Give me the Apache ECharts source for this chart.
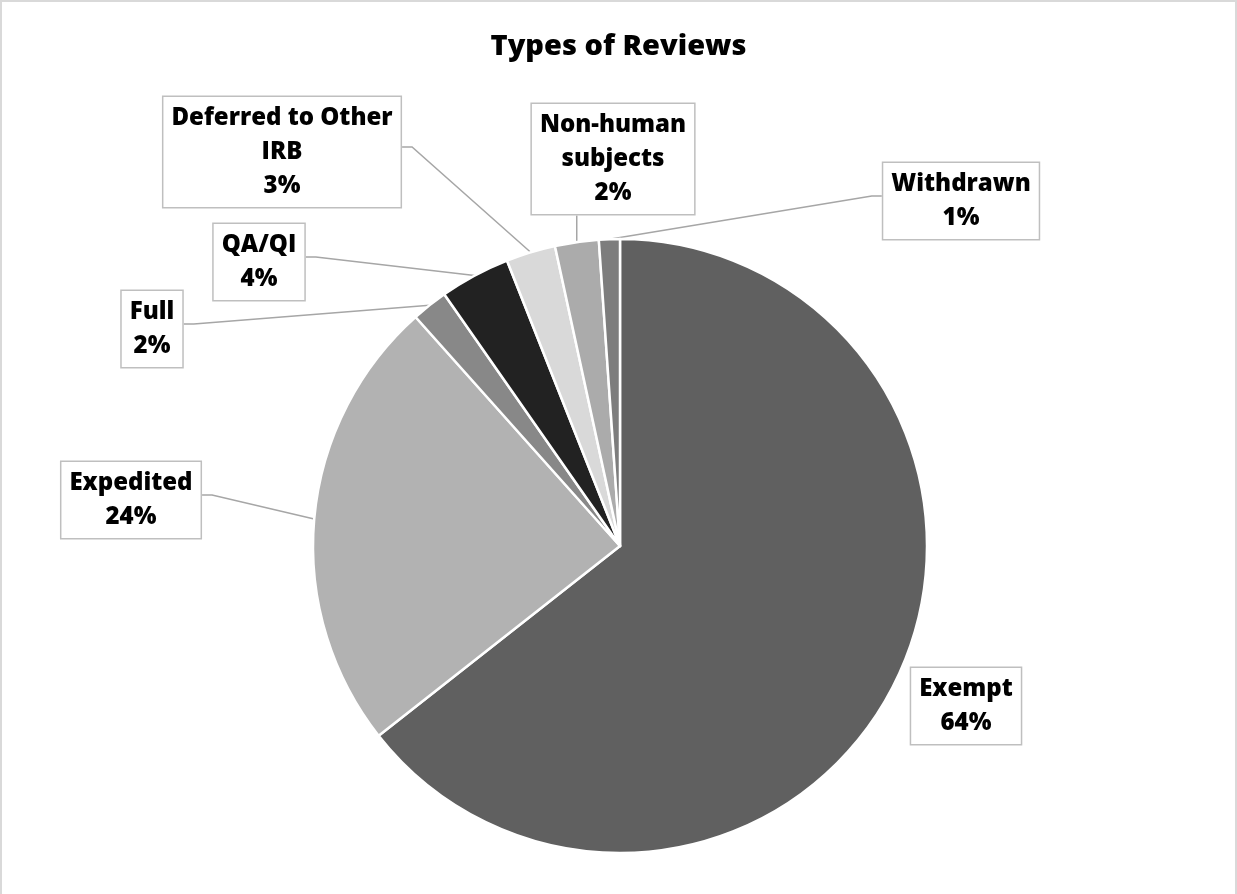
<!DOCTYPE html>
<html>
<head>
<meta charset="utf-8">
<script src="https://cdn.jsdelivr.net/npm/echarts@6/dist/echarts.min.js"></script>
<style>
  html, body { margin: 0; padding: 0; background: #fff; }
  #wrap { position: relative; width: 1237px; height: 894px; overflow: hidden; }
  #chart { position: absolute; left: 0; top: 0; width: 1237px; height: 894px; }
  #frame { position: absolute; left: 0; top: 0; width: 1237px; height: 900px; box-sizing: border-box;
           border: 2px solid #d9d9d9; pointer-events: none; }
</style>
</head>
<body>
<div id="wrap"><div id="chart"></div><div id="frame"></div></div>
<script>
// ---- data ----
const title = 'Types of Reviews';
const categories = ['Exempt', 'Expedited', 'Full', 'QA/QI', 'Deferred to Other IRB', 'Non-human subjects', 'Withdrawn'];
const shares = [64.4, 24.0, 1.9, 3.7, 2.6, 2.3, 1.1];
const sliceColors = ['#606060', '#b2b2b2', '#888888', '#222222', '#d9d9d9', '#ababab', '#7d7d7d'];

// ---- label layout (box centres in px, and where the leader line attaches) ----
const labelCenters = [[966, 706], [131, 500], [152, 329], [259, 262], [282, 152], [613, 159], [961, 201]];
const labelSides = ['none', 'right', 'right', 'right', 'right', 'bottom', 'left'];

function wrapName(name) {
  if (name.length > 12 && name.indexOf(' ') > 0) {
    const i = name.lastIndexOf(' ');
    return name.slice(0, i) + '\n' + name.slice(i + 1);
  }
  return name;
}

const chart = echarts.init(document.getElementById('chart'), null, { renderer: 'canvas' });
const data = categories.map((c, i) => ({
  name: c,
  value: shares[i],
  itemStyle: { color: sliceColors[i] },
  labelLine: { show: labelSides[i] !== 'none' }
}));

chart.setOption({
  animation: false,
  backgroundColor: '#ffffff',
  title: {
    text: title,
    left: 'center',
    top: 27,
    textStyle: { fontFamily: 'Open Sans', fontWeight: 800, fontSize: 29, color: '#000' }
  },
  series: [{
    type: 'pie',
    center: [620, 546],
    radius: 307,
    startAngle: 90,
    clockwise: true,
    data: data,
    emphasis: { disabled: true },
    itemStyle: { borderColor: '#ffffff', borderWidth: 2.5 },
    label: {
      show: true,
      formatter: p => wrapName(p.name) + '\n' + Math.round(p.percent) + '%',
      fontFamily: 'Open Sans',
      fontWeight: 800,
      fontSize: 24,
      lineHeight: 34,
      color: '#000',
      align: 'center',
      backgroundColor: '#ffffff',
      borderColor: '#bfbfbf',
      borderWidth: 1.5,
      padding: [4, 8, 4, 8]
    },
    labelLine: { show: true, length: 20, length2: 10, lineStyle: { color: '#a6a6a6', width: 1.5 } },
    labelLayout: function (p) {
      const c = labelCenters[p.dataIndex];
      const side = labelSides[p.dataIndex];
      const w = p.labelRect.width, h = p.labelRect.height;
      const a = p.labelLinePoints ? p.labelLinePoints[0] : null;
      const ay = c[1] - 5;
      let pts;
      if (a) {
        if (side === 'right') {
          const ex = c[0] + w / 2;
          pts = [a, [ex + 10, ay], [ex, ay]];
        } else if (side === 'left') {
          const ex = c[0] - w / 2;
          pts = [a, [ex - 10, ay], [ex, ay]];
        } else if (side === 'bottom') {
          const ey = c[1] + h / 2;
          pts = [a, [a[0], ey], [a[0], ey]];
        }
      }
      const out = { x: c[0], y: c[1], align: 'center', verticalAlign: 'middle' };
      if (pts) out.labelLinePoints = pts;
      return out;
    }
  }]
});
</script>
</body>
</html>
